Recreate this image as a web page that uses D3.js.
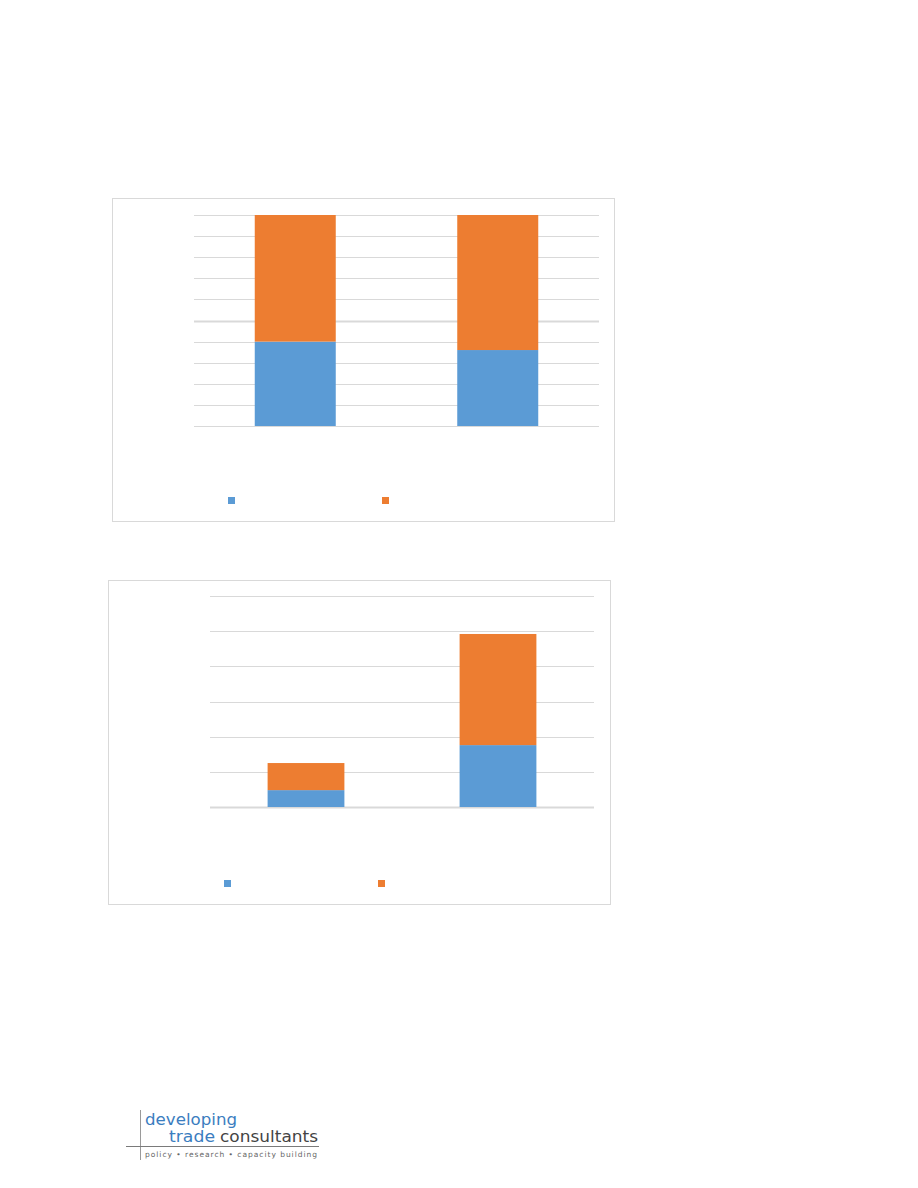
<!DOCTYPE html>
<html>
<head>
<meta charset="utf-8">
<script src="https://cdn.jsdelivr.net/npm/d3@7"></script>
<style>
  body { margin: 0; background: #fff; }
  svg { display: block; }
</style>
</head>
<body>
<svg id="page" width="918" height="1188"></svg>
<script>
// ---- Data ----
const categories = ["c1", "c2"];
// Chart 1: 100% stacked (percent)
const chart1Blue = [40, 36];
const chart1Orange = [60, 64];
const chart1Ticks = [0, 10, 20, 30, 40, 50, 60, 70, 80, 90, 100];
// Chart 2: stacked values
const chart2Blue = [4.8, 17.6];
const chart2Orange = [7.7, 31.6];
const chart2Ticks = [0, 10, 20, 30, 40, 50, 60];
const seriesColors = ["#5b9bd5", "#ed7d31"];
const logoLine1 = "developing";
const logoLine2a = "trade";
const logoLine2b = "consultants";
const logoTagline = "policy  \u2022  research  \u2022  capacity building";

const svg = d3.select("#page");

function drawChart(cfg) {
  const g = svg.append("g");
  g.append("rect")
    .attr("x", cfg.frame.x + 0.5).attr("y", cfg.frame.y + 0.5)
    .attr("width", cfg.frame.w).attr("height", cfg.frame.h)
    .attr("fill", "#fff").attr("stroke", "#d9d9d9").attr("stroke-width", 1);

  const x = d3.scaleBand().domain(categories)
    .range([cfg.plot.x0, cfg.plot.x1]).paddingInner(cfg.padIn).paddingOuter(cfg.padOut);
  const y = d3.scaleLinear().domain(cfg.domain).range([cfg.plot.y1, cfg.plot.y0]);

  g.append("g").selectAll("line").data(cfg.ticks).join("line")
    .attr("x1", cfg.plot.x0).attr("x2", cfg.plot.x1)
    .attr("y1", d => Math.round(y(d)) + 0.5).attr("y2", d => Math.round(y(d)) + 0.5)
    .attr("stroke", "#d9d9d9")
    .attr("stroke-width", d => cfg.thick.includes(d) ? 2 : 1);

  const rows = categories.map((c, i) => ({ cat: c, blue: cfg.blue[i], orange: cfg.orange[i] }));
  const stack = d3.stack().keys(["blue", "orange"])(rows);
  g.append("g").selectAll("g").data(stack).join("g")
    .attr("fill", (d, i) => seriesColors[i])
    .selectAll("rect").data(d => d).join("rect")
    .attr("x", d => x(d.data.cat))
    .attr("width", x.bandwidth())
    .attr("y", d => y(d[1]))
    .attr("height", d => y(d[0]) - y(d[1]));

  g.append("g").selectAll("rect").data(seriesColors).join("rect")
    .attr("x", (d, i) => cfg.legend.x + i * cfg.legend.dx)
    .attr("y", cfg.legend.y)
    .attr("width", 7).attr("height", 7)
    .attr("fill", d => d);
}

drawChart({
  frame: { x: 112, y: 198, w: 502, h: 323 },
  plot: { x0: 194, x1: 599, y0: 215, y1: 426 },
  padIn: 0.6, padOut: 0.3,
  domain: [0, 100], ticks: chart1Ticks, thick: [50],
  blue: chart1Blue, orange: chart1Orange,
  legend: { x: 228, y: 497, dx: 154 }
});

drawChart({
  frame: { x: 108, y: 580, w: 502, h: 324 },
  plot: { x0: 210, x1: 594, y0: 596, y1: 807 },
  padIn: 0.6, padOut: 0.3,
  domain: [0, 60], ticks: chart2Ticks, thick: [0],
  blue: chart2Blue, orange: chart2Orange,
  legend: { x: 224, y: 880, dx: 154 }
});

// ---- Logo ----
const logo = svg.append("g");
logo.append("line").attr("x1", 140.5).attr("x2", 140.5).attr("y1", 1110).attr("y2", 1160)
  .attr("stroke", "#9a9a9a").attr("stroke-width", 1);
logo.append("line").attr("x1", 126).attr("x2", 319).attr("y1", 1146.5).attr("y2", 1146.5)
  .attr("stroke", "#7a7a7a").attr("stroke-width", 1.2);
logo.append("text").attr("x", 145).attr("y", 1124.5).text(logoLine1)
  .attr("font-family", "DejaVu Sans, sans-serif")
  .attr("font-size", 16.5).attr("fill", "#3b7dc0")
  .attr("textLength", 92).attr("lengthAdjust", "spacingAndGlyphs");
logo.append("text").attr("x", 169).attr("y", 1141.5).text(logoLine2a)
  .attr("font-family", "DejaVu Sans, sans-serif").attr("font-size", 16.5).attr("fill", "#3b7dc0")
  .attr("textLength", 46).attr("lengthAdjust", "spacingAndGlyphs");
logo.append("text").attr("x", 220).attr("y", 1141.5).text(logoLine2b)
  .attr("font-family", "DejaVu Sans, sans-serif").attr("font-size", 16.5).attr("fill", "#444")
  .attr("textLength", 98).attr("lengthAdjust", "spacingAndGlyphs");
logo.append("text").attr("x", 145).attr("y", 1157).text(logoTagline)
  .attr("font-family", "DejaVu Sans, sans-serif").attr("font-size", 7.5).attr("fill", "#666")
  .attr("textLength", 172).attr("lengthAdjust", "spacing");
</script>
</body>
</html>
